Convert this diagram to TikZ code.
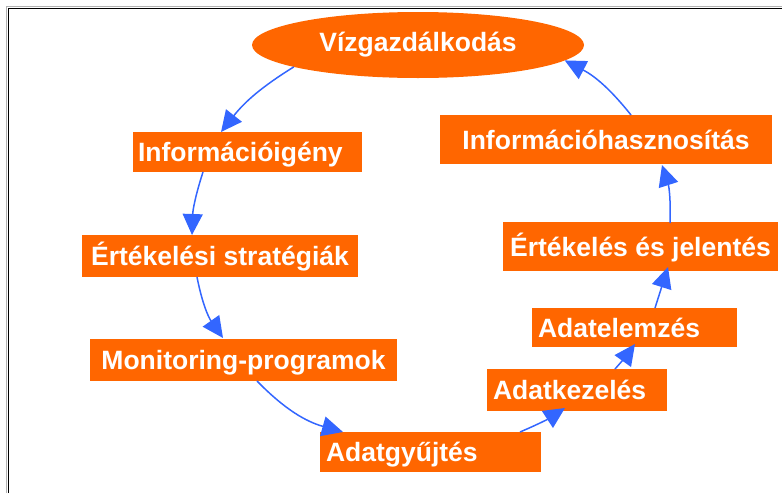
\documentclass[tikz,border=0pt]{standalone}
\usepackage{fontspec}
\setmainfont{Liberation Sans}
\usetikzlibrary{arrows.meta,calc,shapes.geometric}
\definecolor{stageorange}{HTML}{FF6600}
\definecolor{flowblue}{HTML}{3366FF}

\begin{document}
\begin{tikzpicture}[x=1pt,y=1pt,
  label font/.style={font=\bfseries\fontsize{26.5}{30}\selectfont, text=white},
  stage/.style={rectangle, fill=stageorange, label font, inner ysep=0pt,
    outer sep=0pt, text height=24pt, text depth=5pt},
  centerbox/.style 2 args={stage, minimum width=#1, minimum height=#2, inner xsep=0pt},
  leftbox/.style n args={3}{stage, text width=#1, inner xsep=#3, minimum height=#2, align=left},
  flow/.style={draw=flowblue, line width=1.5pt,
    -{Triangle[length=21pt,width=20pt]}}]

\useasboundingbox (0,0) rectangle (782,-493);

% frame
\draw[gray!60, line width=1pt] (6.8,-493) -- (6.8,-6.8) -- (782,-6.8);
\draw[black, line width=1.4pt] (8.3,-493) -- (8.3,-8.3) -- (782,-8.3);

% stages of the cycle
\node[ellipse, fill=stageorange, label font, minimum width=332pt, minimum height=66pt,
  inner sep=0pt, outer sep=0pt] (ell) at (418,-45) {Vízgazdálkodás};
\node[leftbox={219pt}{40pt}{5pt}] (info) at (247.5,-152) {Információigény};
\node[centerbox={276pt}{42pt}] (strat) at (220,-256) {Értékelési stratégiák};
\node[centerbox={307pt}{42pt}] (monit) at (243.5,-360) {Monitoring-programok};
\node[leftbox={209pt}{40pt}{6pt}] (gyujt) at (430.5,-452) {Adatgyűjtés};
\node[leftbox={168pt}{42pt}{6pt}] (kezel) at (577,-390) {Adatkezelés};
\node[leftbox={193pt}{39pt}{6pt}] (elemz) at (634.5,-327.5) {Adatelemzés};
\node[centerbox={275pt}{49pt}] (ertek) at (640.5,-246.5) {Értékelés és jelentés};
\node[centerbox={332pt}{49pt}] (haszn) at (606,-139.5) {Információhasznosítás};

% connectors
\draw[flow] (ell.190) to[bend right=10] ($(info.north)+(-26.5,0)$);
\draw[flow] ($(info.south)+(-44.5,0)$) to[bend right=8] ($(strat.north)+(-28,0)$);
\draw[flow] ($(strat.south)+(-23,0)$) to[bend right=12] ($(monit.north)+(-20.5,1)$);
\draw[flow] ($(monit.south)+(13.5,0)$) to[bend right=15] ($(gyujt.north)+(-87.5,0)$);
\draw[flow] ($(gyujt.north)+(89.5,0)$) to[bend right=5] ($(kezel.south)+(-12,3)$);
\draw[flow] ($(kezel.north)+(38,0)$) to[bend right=3] ($(elemz.south)+(0.5,3)$);
\draw[flow] ($(elemz.north)+(20.5,0)$) -- ($(ertek.south)+(27.5,4)$);
\draw[flow] ($(ertek.north)+(29.5,-1)$) to[bend right=10] ($(haszn.south)+(56,-1)$);
\draw[flow] ($(haszn.north)+(25,0)$) to[bend right=12] (ell.354);

\end{tikzpicture}
\end{document}
